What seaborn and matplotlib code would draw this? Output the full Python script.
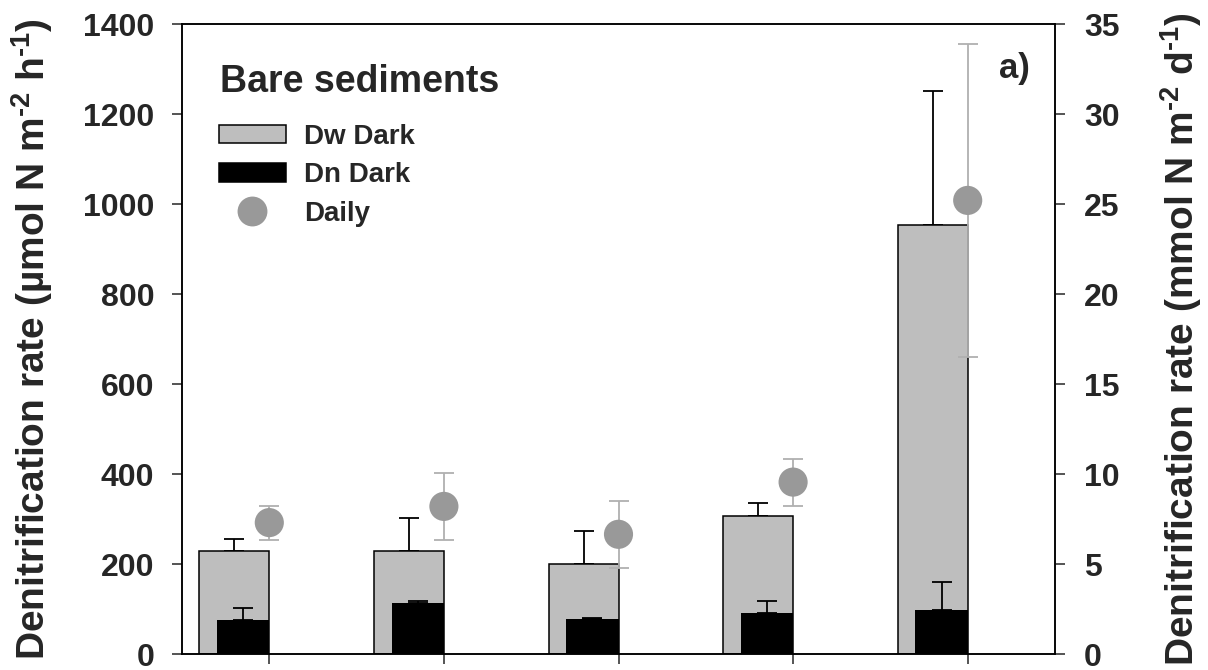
import numpy as np
import matplotlib
matplotlib.use("Agg")
import matplotlib.pyplot as plt
import seaborn as sns
from matplotlib.patches import Patch
from matplotlib.lines import Line2D

# Five bare-sediment stations (no x tick labels are shown)
stations = ["St1", "St2", "St3", "St4", "St5"]

# Hourly dark rates (µmol N m-2 h-1) with standard errors
dw_dark = [228, 228, 200, 307, 953]
dw_dark_se = [27, 75, 73, 28, 299]
dn_dark = [75, 113, 78, 91, 98]
dn_dark_se = [28, 4, 3, 27, 63]

# Daily rates (mmol N m-2 d-1) with standard errors
daily = [7.3, 8.2, 6.65, 9.55, 25.2]
daily_se = [0.95, 1.85, 1.85, 1.3, 8.7]

legend_labels = ["Dw Dark", "Dn Dark", "Daily"]

BAR_GREY = "#bebebe"
DOT_GREY = "#999999"
ERR_GREY = "#b0b0b0"

sns.set_theme(style="ticks")
plt.rcParams["font.family"] = ["Liberation Sans", "DejaVu Sans"]
plt.rcParams["font.weight"] = "bold"
plt.rcParams["mathtext.fontset"] = "custom"
plt.rcParams["mathtext.rm"] = "Liberation Sans:bold"
plt.rcParams["mathtext.it"] = "Liberation Sans:bold"
plt.rcParams["mathtext.bf"] = "Liberation Sans:bold"
plt.rcParams["mathtext.default"] = "rm"

fig = plt.figure(figsize=(12.08, 6.70), dpi=100)
ax = fig.add_axes([182 / 1208, 16 / 670, 873 / 1208, 630 / 670])

pos = np.arange(len(stations))
dw_x = pos - 0.2
dn_x = pos - 0.15

# Grey bars (Dw) with upward error bars
sns.barplot(x=dw_x, y=dw_dark, native_scale=True, width=0.4, color=BAR_GREY,
            saturation=1, edgecolor="black", linewidth=1.1, errorbar=None, ax=ax,
            zorder=2)
ax.errorbar(dw_x, dw_dark, yerr=[np.zeros(len(dw_dark)), dw_dark_se], fmt="none",
            ecolor="black", elinewidth=1.3, capsize=7, capthick=1.3, zorder=1.5)

# Black bars (Dn) drawn in front, right-aligned with the grey ones
sns.barplot(x=dn_x, y=dn_dark, native_scale=True, width=0.3, color="black",
            saturation=1, linewidth=0, errorbar=None, ax=ax, zorder=3)
ax.errorbar(dn_x, dn_dark, yerr=[np.zeros(len(dn_dark)), dn_dark_se], fmt="none",
            ecolor="black", elinewidth=1.3, capsize=7, capthick=1.3, zorder=3.5)

ax.set_xlim(-0.5, 4.5)
ax.set_ylim(0, 1400)
ax.set_yticks(np.arange(0, 1401, 200))
ax.set_xticks(pos)
ax.set_xticklabels([])
ax.set_xlabel("")
ax.set_ylabel("Denitrification rate (µmol N m$^{\u2010 2}$ h$^{\u2010 1}$)", fontsize=28,
              fontweight="bold", labelpad=20)
ax.tick_params(axis="y", direction="out", length=7, width=1.1, labelsize=23, pad=13)
ax.tick_params(axis="x", direction="out", length=7, width=1.1)

# Daily rates on the right-hand axis
ax2 = ax.twinx()
ax2.errorbar(pos, daily, yerr=daily_se, fmt="none", ecolor=ERR_GREY,
             elinewidth=1.3, capsize=7, capthick=1.3, zorder=2)
sns.scatterplot(x=pos, y=daily, s=440, color=DOT_GREY, edgecolor="none",
                ax=ax2, zorder=3, legend=False)
ax2.set_ylim(0, 35)
ax2.set_yticks(np.arange(0, 36, 5))
ax2.set_ylabel("Denitrification rate (mmol N m$^{\u2010 2}$ d$^{\u2010 1}$)", fontsize=28,
               fontweight="bold", labelpad=28)
ax2.tick_params(axis="y", direction="out", length=7, width=1.1, labelsize=23, pad=14)

for a in (ax, ax2):
    for sp in a.spines.values():
        sp.set_visible(True)
        sp.set_linewidth(1.1)
        sp.set_color("black")
    for lbl in a.get_yticklabels():
        lbl.set_fontweight("bold")

handles = [
    Patch(facecolor=BAR_GREY, edgecolor="black", linewidth=1.1),
    Patch(facecolor="black", edgecolor="black", linewidth=1.1),
    Line2D([], [], linestyle="none", marker="o", markersize=21.5,
           markerfacecolor=DOT_GREY, markeredgecolor="none"),
]
ax2.legend(handles, legend_labels, loc="upper left",
           bbox_to_anchor=(0.0424, 0.842), frameon=False, borderpad=0,
           borderaxespad=0, handlelength=2.4, handleheight=0.65,
           handletextpad=0.65, labelspacing=0.45,
           prop={"size": 20, "weight": "bold"})

ax2.text(0.044, 0.892, "Bare sediments", transform=ax.transAxes, ha="left",
         va="baseline", fontsize=27, fontweight="bold")
ax2.text(0.954, 0.929, "a)", transform=ax.transAxes, ha="center", va="center",
         fontsize=25, fontweight="bold")

fig.savefig("out.png", dpi=100)
